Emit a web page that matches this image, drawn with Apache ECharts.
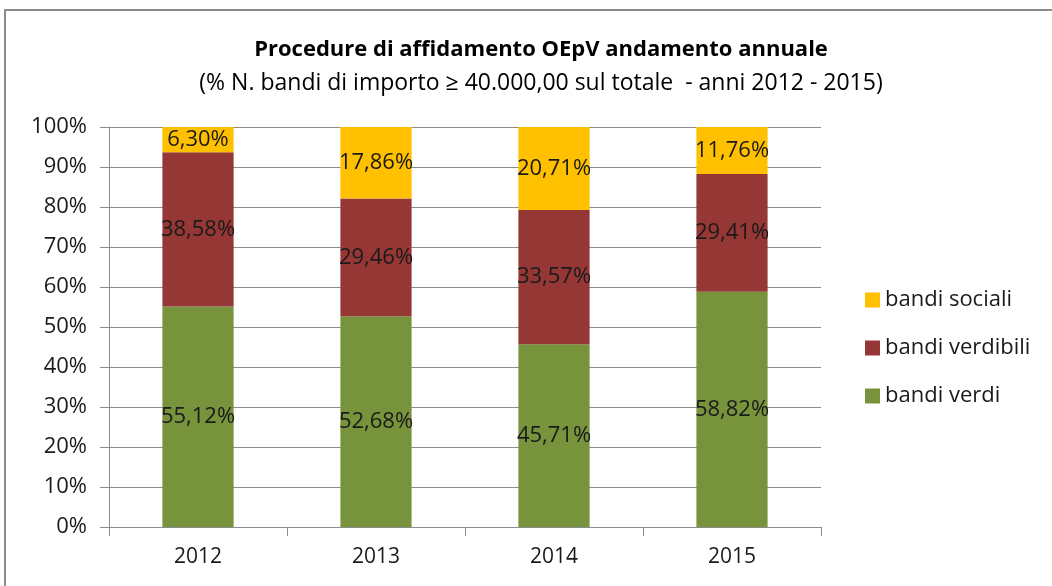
<!DOCTYPE html>
<html>
<head>
<meta charset="utf-8">
<script src="https://cdn.jsdelivr.net/npm/echarts@6/dist/echarts.min.js"></script>
<style>
    html, body { margin: 0; padding: 0; background: #fff; }
    #frame {
        position: absolute; left: 4px; top: 9px; width: 1100px; height: 600px;
        border-top: 2px solid #8c8c8c; border-left: 2px solid #8c8c8c;
    }
    #chart { position: absolute; left: 0; top: 0; width: 1052px; height: 586px; }
</style>
</head>
<body>
<div id="frame"></div>
<div id="chart"></div>
<script>
const anni = ["2012", "2013", "2014", "2015"];
const bandiVerdi = [55.12, 52.68, 45.71, 58.82];
const bandiVerdibili = [38.58, 29.46, 33.57, 29.41];
const bandiSociali = [6.30, 17.86, 20.71, 11.76];

const font = "'Open Sans', sans-serif";

const chart = echarts.init(document.getElementById("chart"));

// etichetta con virgola decimale
const label = {
    show: true,
    position: 'inside',
    color: '#1a1a1a',
    fontSize: 22,
    fontFamily: font,
    formatter: (p) => p.value.toFixed(2).replace('.', ',') + '%'
};

const option = {
    backgroundColor: 'transparent',
    title: {
        text: 'Procedure di affidamento OEpV andamento annuale',
        subtext: '(% N. bandi di importo ≥ 40.000,00 sul totale  - anni 2012 - 2015)',
        left: 536,
        textAlign: 'center',
        top: 34,
        itemGap: 11,
        textStyle: { fontSize: 22, fontWeight: 'bold', color: '#000', fontFamily: font },
        subtextStyle: { fontSize: 23, color: '#000', fontFamily: font }
    },
    legend: {
        orient: 'vertical',
        left: 860,
        top: 284,
        itemWidth: 15,
        itemHeight: 15,
        itemGap: 26,
        icon: 'rect',
        textStyle: { fontSize: 22, color: '#1a1a1a', fontFamily: font },
        data: ['bandi sociali', 'bandi verdibili', 'bandi verdi']
    },
    grid: { left: 109, right: 231, top: 127, bottom: 59 },
    xAxis: {
        type: 'category',
        data: anni,
        axisLine: { lineStyle: { color: '#8c8c8c', width: 1 } },
        axisTick: { show: true, length: 9, lineStyle: { color: '#8c8c8c' } },
        axisLabel: { fontSize: 21, color: '#1a1a1a', fontFamily: font, margin: 20 }
    },
    yAxis: {
        type: 'value',
        min: 0,
        max: 100,
        interval: 10,
        axisLine: { show: true, lineStyle: { color: '#8c8c8c' } },
        axisTick: { show: true, length: 9, lineStyle: { color: '#8c8c8c' } },
        splitLine: { lineStyle: { color: '#8c8c8c' } },
        axisLabel: { fontSize: 22, color: '#1a1a1a', fontFamily: font, margin: 22, formatter: '{value}%' }
    },
    series: [
        { name: 'bandi verdi', type: 'bar', stack: 'tot', barWidth: '40%', data: bandiVerdi, itemStyle: { color: '#77933C' }, label: label },
        { name: 'bandi verdibili', type: 'bar', stack: 'tot', data: bandiVerdibili, itemStyle: { color: '#953735' }, label: label },
        { name: 'bandi sociali', type: 'bar', stack: 'tot', data: bandiSociali, itemStyle: { color: '#FFC000' }, label: label }
    ]
};
chart.setOption(option);
</script>
</body>
</html>
